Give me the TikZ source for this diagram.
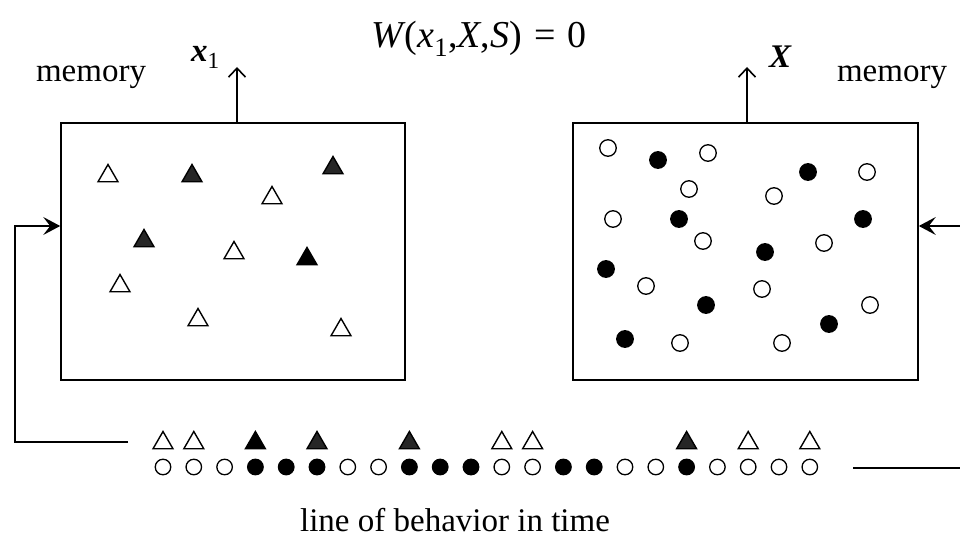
\documentclass[tikz,border=0pt]{standalone}
\usepackage{fontspec}
\setmainfont{Liberation Serif}
\usetikzlibrary{shapes.geometric,arrows.meta}
\begin{document}
\begin{tikzpicture}[x=1pt,y=-1pt,
  membox/.style={draw, line width=1.6pt, inner sep=0, minimum height=257pt},
  otri/.style={regular polygon, regular polygon sides=3, minimum size=23pt, inner sep=0pt, draw, line width=1.4pt, fill=white},
  ftri/.style={otri, fill=black},
  htri/.style={otri, fill=black!85},
  ocirc/.style={circle, minimum size=16.5pt, inner sep=0pt, draw, line width=1.3pt, fill=white},
  fcirc/.style={ocirc, fill=black},
  lab/.style={font=\fontsize{33}{36}\selectfont, inner sep=0pt},
  link/.style={line width=1.6pt},
  uparrow/.style={link, -{Straight Barb[length=9pt,width=17pt,line width=1.6pt]}},
  sidearrow/.style={link, -{Stealth[length=17pt,width=18pt,inset=7pt]}},
]
\clip (0,0) rectangle (960,537);
\useasboundingbox (0,0) rectangle (960,537);

% memory boxes
\node[membox, minimum width=344pt] (L) at (233,251.5) {};
\node[membox, minimum width=345pt] (R) at (745.5,251.5) {};

% labels
\node[lab, anchor=base] (memL) at (91,82) {memory};
\node[lab, anchor=base] (memR) at (892,82) {memory};
\node[lab, anchor=base west] (xone) at (191,62) {\textbf{\textit{x}}\textsubscript{1}};
\node[lab, anchor=base west] (bigX) at (769,68) {\textbf{\textit{X}}};
\node[lab, anchor=base, font=\fontsize{38}{42}\selectfont] (title) at (479,48)
  {\textit{W}\kern-1pt(\textit{x}\textsubscript{1},\textit{X},\textit{S})\hspace{12pt}=\hspace{12pt}0};
\node[lab, anchor=base] (cap) at (455,531) {line of behavior in time};

% output arrows
\coordinate (xtip) at (237,67);
\coordinate (Xtip) at (747,67);
\draw[uparrow] (xtip |- L.north) -- (xtip);
\draw[uparrow] (Xtip |- R.north) -- (Xtip);

% feedback lines
\coordinate (lstart) at (128,442);
\coordinate (lcorner) at (15,442);
\coordinate (lin) at (15,226);
\draw[sidearrow] (lstart) -- (lcorner) -- (lin) -- (lin -| L.west);
\coordinate (rstart) at (853,468);
\coordinate (rcorner) at (966,468);
\coordinate (rin) at (966,226);
\draw[sidearrow] (rstart) -- (rcorner) -- (rin) -- (rin -| R.east);

% triangles in left box
\foreach \n/\x/\y/\s in {1/108/176/otri, 2/192/176/htri, 3/333/168/htri,
  4/272/198/otri, 5/144/241/htri, 6/234/253/otri, 7/307/259/ftri,
  8/120/286/otri, 9/198/320/otri, 10/341/330/otri}
  \node[\s] (lt\n) at (\x,\y) {};

% circles in right box
\foreach \n/\x/\y/\s in {1/608/148/ocirc, 2/658/160/fcirc, 3/708/153/ocirc,
  4/808/172/fcirc, 5/867/172/ocirc, 6/689/189/ocirc, 7/774/196/ocirc,
  8/613/219/ocirc, 9/679/219/fcirc, 10/863/219/fcirc, 11/703/241/ocirc,
  12/765/252/fcirc, 13/824/243/ocirc, 14/606/269/fcirc, 15/646/286/ocirc,
  16/762/289/ocirc, 17/706/305/fcirc, 18/870/305/ocirc, 19/829/324/fcirc,
  20/625/339/fcirc, 21/680/343/ocirc, 22/782/343/ocirc}
  \node[\s] (rc\n) at (\x,\y) {};

% line of behaviour: circles
\foreach \s [count=\i] in {ocirc,ocirc,ocirc,fcirc,fcirc,fcirc,ocirc,ocirc,
  fcirc,fcirc,fcirc,ocirc,ocirc,fcirc,fcirc,ocirc,ocirc,fcirc,ocirc,ocirc,ocirc,ocirc}
  \node[\s, minimum size=15.5pt] (bc\i) at ({163+30.8*(\i-1)},467) {};

% line of behaviour: triangles
\foreach \i/\s in {1/otri,2/otri,4/ftri,6/htri,9/htri,12/otri,13/otri,18/htri,20/otri,22/otri}
  \node[\s] (bt\i) at ({163+30.8*(\i-1)},443) {};
\end{tikzpicture}
\end{document}
